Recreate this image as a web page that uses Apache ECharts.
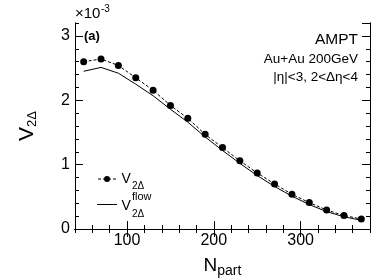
<!DOCTYPE html>
<html>
<head>
<meta charset="utf-8">
<script src="https://cdn.jsdelivr.net/npm/echarts@6/dist/echarts.min.js"></script>
<style>html,body{margin:0;padding:0;background:#fff}#c{width:374px;height:280px}</style>
</head>
<body>
<div id="c"></div>
<script>
var npart = [50, 70, 90, 110, 130, 150, 170, 190, 210, 230, 250, 270, 290, 310, 330, 350, 370];
var v2d = [2.60, 2.64, 2.54, 2.35, 2.155, 1.92, 1.72, 1.47, 1.265, 1.06, 0.87, 0.70, 0.54, 0.41, 0.295, 0.21, 0.155];
var v2flow = [2.45, 2.51, 2.42, 2.25, 2.07, 1.86, 1.66, 1.43, 1.22, 1.02, 0.83, 0.66, 0.51, 0.38, 0.27, 0.19, 0.135];
var xMajor = [100, 200, 300];

var FONT = 'Liberation Sans';
var chart = echarts.init(document.getElementById('c'));
function pairs(xs, ys) { return xs.map(function (x, i) { return [x, ys[i]]; }); }
var lineBlack = { show: true, lineStyle: { color: '#000', width: 1 } };
function xAx(pos, major, labels) {
  return {
    type: 'value', position: pos, min: 40, max: 380,
    interval: major ? undefined : 20,
    axisLine: lineBlack, splitLine: { show: false },
    axisTick: major ? { show: true, inside: true, length: 8, customValues: xMajor, lineStyle: { color: '#000' } }
                    : { show: true, inside: true, length: 4, lineStyle: { color: '#000' } },
    axisLabel: labels ? { show: true, customValues: xMajor, fontFamily: FONT, fontSize: 16, color: '#000', margin: 4 } : { show: false },
    name: labels ? '{n|N}{s|part}' : '',
    nameLocation: 'middle', nameGap: 25,
    nameTextStyle: { rich: { n: { fontFamily: FONT, fontSize: 19, color: '#000' }, s: { fontFamily: FONT, fontSize: 14, color: '#000', padding: [10, 0, 0, 0] } } }
  };
}
function yAx(pos, major, labels) {
  return {
    type: 'value', position: pos, min: 0, max: 3.2,
    interval: major ? 1 : 0.2,
    axisLine: lineBlack, splitLine: { show: false },
    axisTick: { show: true, inside: true, length: major ? 8 : 4, lineStyle: { color: '#000' } },
    axisLabel: labels ? { show: true, showMaxLabel: false, fontFamily: FONT, fontSize: 16, color: '#000', margin: 5 } : { show: false },
    name: labels ? '{v|V}{s|2Δ}' : '',
    nameLocation: 'middle', nameGap: 36,
    nameTextStyle: { rich: { v: { fontFamily: FONT, fontSize: 21, color: '#000' }, s: { fontFamily: FONT, fontSize: 13, color: '#000', padding: [10, 0, 0, 0] } } }
  };
}
function txt(x, y, s, size, opts) {
  var st = { text: s, fontFamily: FONT, fontSize: size, fill: '#000', verticalAlign: 'middle', textVerticalAlign: 'middle' };
  if (opts) for (var k in opts) st[k] = opts[k];
  return { type: 'text', x: x, y: y, style: st, z: 10 };
}
chart.setOption({
  animation: false,
  grid: { left: 75, right: 4, top: 23, bottom: 51, containLabel: false, outerBoundsMode: 'none' },
  xAxis: [xAx('bottom', false, true), xAx('bottom', true, false), xAx('top', false, false), xAx('top', true, false)],
  yAxis: [yAx('left', false, false), yAx('left', true, true), yAx('right', false, false), yAx('right', true, false)],
  series: [
    { name: 'v2d', type: 'line', xAxisIndex: 0, yAxisIndex: 0, data: pairs(npart, v2d),
      symbol: 'circle', symbolSize: 7, itemStyle: { color: '#000' },
      lineStyle: { color: '#000', width: 1, type: [3, 2] } },
    { name: 'flow', type: 'line', xAxisIndex: 0, yAxisIndex: 0, data: pairs(npart, v2flow),
      symbol: 'none', itemStyle: { color: '#000' },
      lineStyle: { color: '#000', width: 1 } }
  ],
  graphic: [
    txt(75, 14, '×10', 15),
    txt(101, 9, '-3', 10),
    txt(84, 36, '(a)', 13, { fontWeight: 'bold' }),
    txt(358, 40, 'AMPT', 15.5, { textAlign: 'right' }),
    txt(358, 59, 'Au+Au 200GeV', 13.5, { textAlign: 'right' }),
    txt(358, 77, '|η|<3, 2<Δη<4', 13.5, { textAlign: 'right' }),
    // legend
    { type: 'line', shape: { x1: 98, y1: 179, x2: 116, y2: 179 }, style: { stroke: '#000', lineWidth: 1, lineDash: [3, 2] } },
    { type: 'circle', shape: { cx: 107, cy: 179, r: 3 }, style: { fill: '#000' } },
    txt(121.5, 179, 'V', 14),
    txt(132, 186, '2Δ', 10),
    { type: 'line', shape: { x1: 97, y1: 204.5, x2: 117, y2: 204.5 }, style: { stroke: '#000', lineWidth: 1 } },
    txt(121.5, 206.5, 'V', 14),
    txt(132, 197, 'flow', 11),
    txt(132, 214, '2Δ', 10)
  ]
});
</script>
</body>
</html>
